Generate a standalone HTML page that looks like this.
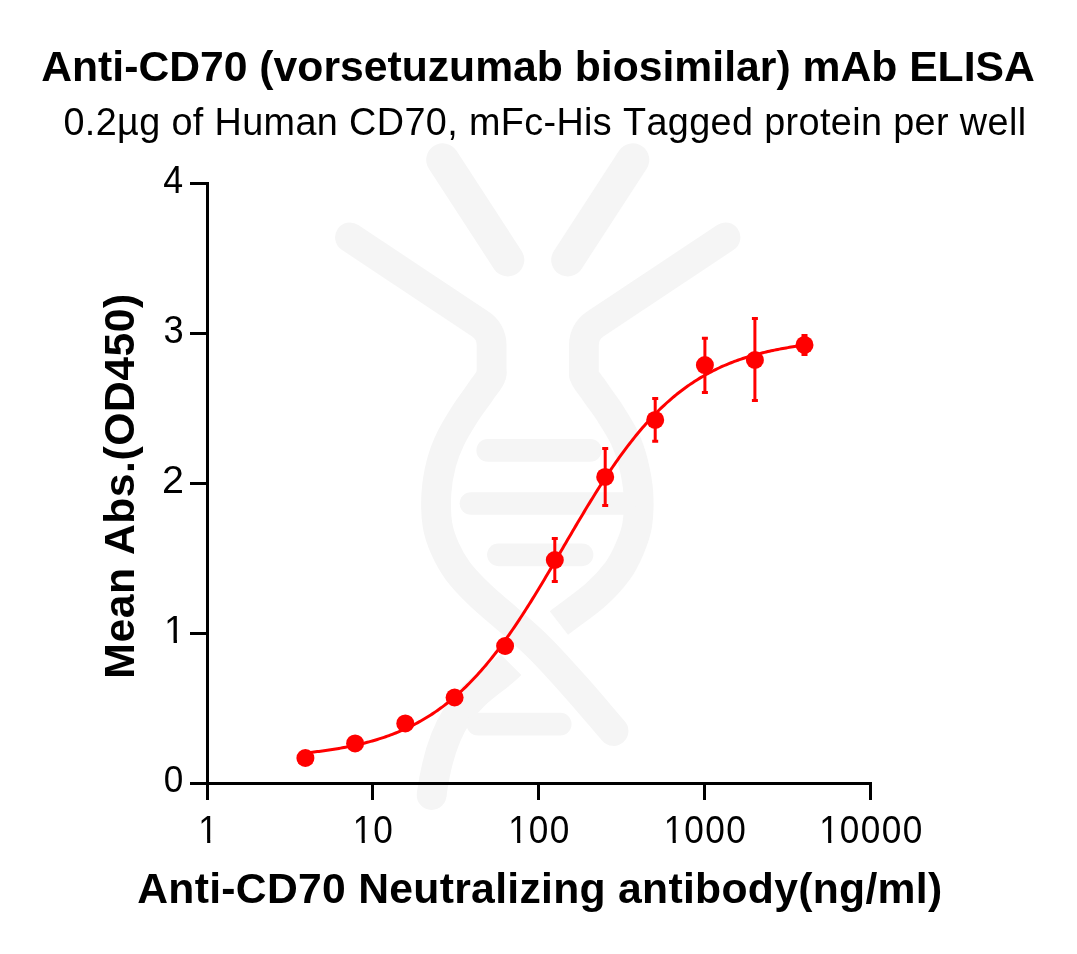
<!DOCTYPE html>
<html><head><meta charset="utf-8"><title>Anti-CD70 ELISA</title><style>html,body{margin:0;padding:0;background:#fff;}svg{display:block;will-change:transform;}</style></head>
<body><svg width="1077" height="954" viewBox="0 0 1077 954">
<rect width="1077" height="954" fill="#fff"/>
<g fill="none" stroke="#f5f5f5" stroke-linecap="round" stroke-linejoin="round">
<path stroke-width="33" d="M442.7,159.8 L507.8,259.9"/>
<path stroke-width="33" d="M632.80,159.8 L567.70,259.9"/>
<path stroke-width="29.8" d="M350.00,237.40 L480.44,324.14 C487.41,328.78 491.60,336.59 491.60,344.96 L491.60,374"/>
<path stroke-width="29.8" d="M725.50,237.40 L595.06,324.14 C588.09,328.78 583.90,336.59 583.90,344.96 L583.90,374"/>
<path stroke-width="29.8" d="M491.60,372.00 C491.60,379.06 485.53,383.83 481.30,390.50 C477.07,397.17 471.27,404.08 466.20,412.00 C461.13,419.92 455.03,429.50 450.90,438.00 C446.77,446.50 443.82,453.83 441.40,463.00 C438.98,472.17 437.05,482.67 436.40,493.00 C435.75,503.33 436.03,515.67 437.50,525.00 C438.97,534.33 441.75,541.27 445.20,549.00 C448.65,556.73 452.40,563.73 458.20,571.40 C464.00,579.07 471.70,586.98 480.00,595.00 C488.30,603.02 498.00,610.58 508.00,619.50 C518.00,628.42 528.67,637.17 540.00,648.50 C551.33,659.83 563.75,673.75 576.00,687.50 C588.25,701.25 601.00,716.50 613.50,731.00"/>
<path stroke-width="29.8" stroke-linecap="butt" d="M583.90,372.00 C583.90,379.06 589.97,383.83 594.20,390.50 C598.43,397.17 604.23,404.08 609.30,412.00 C614.37,419.92 620.60,429.50 624.60,438.00 C628.60,446.50 631.02,453.83 633.30,463.00 C635.58,472.17 637.65,482.67 638.30,493.00 C638.95,503.33 638.67,515.67 637.20,525.00 C635.73,534.33 632.82,541.27 629.50,549.00 C626.18,556.73 622.97,563.73 617.30,571.40 C611.63,579.07 605.23,586.40 595.50,595.00 C585.77,603.60 571.03,613.63 558.90,623.00"/>
<path stroke-width="29.8" stroke-linecap="butt" d="M510.8,664.5 C483.8,691.8 444.5,698.5 431.6,795"/>
<circle cx="431.6" cy="795" r="14.9" fill="#f5f5f5" stroke="none"/>
</g>
<g fill="none" stroke="#f5f5f5" stroke-width="22.7" stroke-linecap="round">
<path d="M487.75,450.4 L590.25,450.4"/>
<path d="M471,503.5 L625,503.5"/>
<path d="M498.45,554.8 L582,554.8"/>
<path d="M478,724.15 L560.15,724.15"/>
</g>
<g stroke="#000" stroke-width="3" fill="none" stroke-linecap="butt">
<path d="M207.5,182 L207.5,785"/>
<path d="M190,783.5 L872,783.5"/>
<path d="M190,783.5 L207.5,783.5"/>
<path d="M190,633.5 L207.5,633.5"/>
<path d="M190,483.5 L207.5,483.5"/>
<path d="M190,333.5 L207.5,333.5"/>
<path d="M190,183.5 L207.5,183.5"/>
<path d="M207.5,783.5 L207.5,800"/>
<path d="M372.5,783.5 L372.5,800"/>
<path d="M538.5,783.5 L538.5,800"/>
<path d="M704.5,783.5 L704.5,800"/>
<path d="M870.5,783.5 L870.5,800"/>
</g>
<polyline points="305.58,752.91 307.25,752.73 308.92,752.56 310.59,752.37 312.26,752.19 313.93,751.99 315.60,751.80 317.27,751.59 318.93,751.39 320.60,751.17 322.27,750.95 323.94,750.73 325.61,750.50 327.28,750.26 328.95,750.02 330.62,749.77 332.28,749.51 333.95,749.25 335.62,748.98 337.29,748.71 338.96,748.42 340.63,748.13 342.30,747.83 343.97,747.53 345.63,747.21 347.30,746.89 348.97,746.56 350.64,746.22 352.31,745.87 353.98,745.52 355.65,745.15 357.32,744.78 358.98,744.39 360.65,744.00 362.32,743.59 363.99,743.18 365.66,742.75 367.33,742.31 369.00,741.87 370.67,741.41 372.33,740.94 374.00,740.46 375.67,739.96 377.34,739.46 379.01,738.94 380.68,738.41 382.35,737.86 384.02,737.30 385.68,736.73 387.35,736.15 389.02,735.54 390.69,734.93 392.36,734.30 394.03,733.66 395.70,733.00 397.37,732.32 399.03,731.63 400.70,730.92 402.37,730.19 404.04,729.45 405.71,728.69 407.38,727.91 409.05,727.11 410.72,726.30 412.38,725.47 414.05,724.61 415.72,723.74 417.39,722.85 419.06,721.94 420.73,721.00 422.40,720.05 424.07,719.07 425.73,718.08 427.40,717.06 429.07,716.02 430.74,714.95 432.41,713.87 434.08,712.75 435.75,711.62 437.42,710.46 439.08,709.28 440.75,708.07 442.42,706.84 444.09,705.58 445.76,704.30 447.43,702.99 449.10,701.66 450.77,700.30 452.43,698.91 454.10,697.49 455.77,696.05 457.44,694.58 459.11,693.08 460.78,691.55 462.45,690.00 464.12,688.41 465.78,686.80 467.45,685.16 469.12,683.49 470.79,681.79 472.46,680.06 474.13,678.30 475.80,676.51 477.47,674.70 479.13,672.85 480.80,670.97 482.47,669.06 484.14,667.13 485.81,665.16 487.48,663.16 489.15,661.14 490.82,659.08 492.48,657.00 494.15,654.88 495.82,652.74 497.49,650.57 499.16,648.36 500.83,646.13 502.50,643.88 504.17,641.59 505.83,639.28 507.50,636.94 509.17,634.57 510.84,632.17 512.51,629.75 514.18,627.31 515.85,624.84 517.52,622.34 519.18,619.82 520.85,617.28 522.52,614.72 524.19,612.13 525.86,609.52 527.53,606.89 529.20,604.25 530.87,601.58 532.53,598.89 534.20,596.19 535.87,593.47 537.54,590.73 539.21,587.98 540.88,585.22 542.55,582.44 544.22,579.65 545.88,576.85 547.55,574.03 549.22,571.21 550.89,568.38 552.56,565.55 554.23,562.70 555.90,559.85 557.57,557.00 559.23,554.14 560.90,551.28 562.57,548.42 564.24,545.56 565.91,542.71 567.58,539.85 569.25,536.99 570.92,534.15 572.58,531.30 574.25,528.46 575.92,525.63 577.59,522.81 579.26,519.99 580.93,517.19 582.60,514.40 584.27,511.61 585.93,508.85 587.60,506.09 589.27,503.35 590.94,500.63 592.61,497.92 594.28,495.23 595.95,492.56 597.62,489.91 599.28,487.28 600.95,484.67 602.62,482.07 604.29,479.51 605.96,476.96 607.63,474.44 609.30,471.94 610.97,469.46 612.63,467.01 614.30,464.58 615.97,462.19 617.64,459.81 619.31,457.47 620.98,455.15 622.65,452.86 624.32,450.59 625.98,448.36 627.65,446.15 629.32,443.97 630.99,441.82 632.66,439.70 634.33,437.61 636.00,435.55 637.67,433.51 639.33,431.51 641.00,429.54 642.67,427.60 644.34,425.68 646.01,423.80 647.68,421.95 649.35,420.12 651.02,418.33 652.68,416.56 654.35,414.83 656.02,413.12 657.69,411.45 659.36,409.80 661.03,408.18 662.70,406.59 664.37,405.03 666.03,403.50 667.70,401.99 669.37,400.52 671.04,399.07 672.71,397.65 674.38,396.25 676.05,394.89 677.72,393.54 679.38,392.23 681.05,390.94 682.72,389.68 684.39,388.44 686.06,387.23 687.73,386.04 689.40,384.88 691.07,383.74 692.73,382.63 694.40,381.54 696.07,380.47 697.74,379.42 699.41,378.40 701.08,377.40 702.75,376.42 704.42,375.46 706.09,374.52 707.75,373.60 709.42,372.71 711.09,371.83 712.76,370.98 714.43,370.14 716.10,369.32 717.77,368.52 719.44,367.74 721.10,366.97 722.77,366.23 724.44,365.50 726.11,364.78 727.78,364.09 729.45,363.41 731.12,362.75 732.79,362.10 734.45,361.46 736.12,360.85 737.79,360.24 739.46,359.66 741.13,359.08 742.80,358.52 744.47,357.97 746.14,357.44 747.80,356.92 749.47,356.41 751.14,355.91 752.81,355.43 754.48,354.95 756.15,354.49 757.82,354.04 759.49,353.61 761.15,353.18 762.82,352.76 764.49,352.35 766.16,351.96 767.83,351.57 769.50,351.19 771.17,350.83 772.84,350.47 774.50,350.12 776.17,349.78 777.84,349.44 779.51,349.12 781.18,348.80 782.85,348.50 784.52,348.20 786.19,347.90 787.85,347.62 789.52,347.34 791.19,347.07 792.86,346.81 794.53,346.55 796.20,346.30 797.87,346.05 799.54,345.82 801.20,345.58 802.87,345.36 804.54,345.14" fill="none" stroke="#f00" stroke-width="3" stroke-linejoin="round"/>
<g stroke="#f00" stroke-width="3" fill="none">
<path d="M554.8,538.6 L554.8,581.4 M551.8,538.6 L557.8,538.6 M551.8,581.4 L557.8,581.4"/>
<path d="M605.2,448.5 L605.2,505.5 M602.2,448.5 L608.2,448.5 M602.2,505.5 L608.2,505.5"/>
<path d="M655.2,398.4 L655.2,441.3 M652.2,398.4 L658.2,398.4 M652.2,441.3 L658.2,441.3"/>
<path d="M704.9,338.3 L704.9,392.4 M701.9,338.3 L707.9,338.3 M701.9,392.4 L707.9,392.4"/>
<path d="M754.9,318.5 L754.9,400.5 M751.9,318.5 L757.9,318.5 M751.9,400.5 L757.9,400.5"/>
<path d="M804.5,335.4 L804.5,354.4 M801.5,335.4 L807.5,335.4 M801.5,354.4 L807.5,354.4"/>
</g>
<g fill="#f00">
<circle cx="305.4" cy="758.0" r="9"/>
<circle cx="355.1" cy="743.4" r="9"/>
<circle cx="405.3" cy="723.4" r="9"/>
<circle cx="454.6" cy="697.5" r="9"/>
<circle cx="505.1" cy="646.0" r="9"/>
<circle cx="554.8" cy="560.0" r="9"/>
<circle cx="605.2" cy="476.9" r="9"/>
<circle cx="655.2" cy="419.9" r="9"/>
<circle cx="704.9" cy="365.1" r="9"/>
<circle cx="754.9" cy="360.0" r="9"/>
<circle cx="804.5" cy="344.9" r="9"/>
</g>
<g font-family="'Liberation Sans', Arial, sans-serif" fill="#000" style="font-kerning:none">
<text transform="translate(41.2,80.7) scale(1,1.012)" font-size="42.7" font-weight="bold">Anti-CD70 (vorsetuzumab biosimilar) mAb ELISA</text>
<text transform="translate(63.4,135.0) scale(1,1.0346)" font-size="37.8" letter-spacing="0.3745">0.2µg of Human CD70, mFc-His Tagged protein per well</text>
<text transform="translate(137.2,902.7) scale(1,1.015)" font-size="42.7" font-weight="bold" letter-spacing="0.28">Anti-CD70 Neutralizing antibody(ng/ml)</text>
<text transform="translate(133.9,678.65) rotate(-90) scale(1,1.015)" font-size="42.7" font-weight="bold" letter-spacing="0.51">Mean Abs.(OD450)</text>
<clipPath id="c1" clipPathUnits="userSpaceOnUse"><rect x="-20" y="-60" width="80" height="57.176"/><rect x="9.485" y="-4" width="3.381" height="6"/></clipPath>
<text transform="translate(163.178,192.900) scale(0.945,1.04)" font-size="37.8">4</text>
<text transform="translate(163.518,342.530) scale(0.96,1.011)" font-size="37.8">3</text>
<text transform="translate(162.014,492.900) scale(1.045,1.019)" font-size="37.8">2</text>
<text transform="translate(164.100,642.900) scale(1.0,1.04)" font-size="37.8" clip-path="url(#c1)">1</text>
<text transform="translate(163.824,792.430) scale(0.93,1.0015)" font-size="37.8">0</text>
<clipPath id="cx0" clipPathUnits="userSpaceOnUse"><rect x="-50" y="-60" width="130" height="57.176"/><rect x="10.915" y="-4" width="3.381" height="6"/></clipPath>
<text transform="translate(197.000,842.65) scale(0.93,1.02)" font-size="37.8" x="1.430" y="0" clip-path="url(#cx0)">1</text>
<clipPath id="cx1" clipPathUnits="userSpaceOnUse"><rect x="-50" y="-60" width="160" height="57.176"/><rect x="10.915" y="-4" width="3.381" height="6"/><rect x="23.859" y="-4" width="20.5" height="6"/></clipPath>
<text transform="translate(351.500,842.65) scale(0.93,1.02)" font-size="37.8" x="1.430 23.359" y="0" clip-path="url(#cx1)">10</text>
<clipPath id="cx2" clipPathUnits="userSpaceOnUse"><rect x="-50" y="-60" width="190" height="57.176"/><rect x="10.915" y="-4" width="3.381" height="6"/><rect x="23.859" y="-4" width="20.5" height="6"/><rect x="46.440" y="-4" width="20.5" height="6"/></clipPath>
<text transform="translate(507.000,842.65) scale(0.93,1.02)" font-size="37.8" x="1.430 23.359 45.940" y="0" clip-path="url(#cx2)">100</text>
<clipPath id="cx3" clipPathUnits="userSpaceOnUse"><rect x="-50" y="-60" width="220" height="57.176"/><rect x="10.915" y="-4" width="3.381" height="6"/><rect x="23.859" y="-4" width="20.5" height="6"/><rect x="46.440" y="-4" width="20.5" height="6"/><rect x="69.020" y="-4" width="20.5" height="6"/></clipPath>
<text transform="translate(662.500,842.65) scale(0.93,1.02)" font-size="37.8" x="1.430 23.359 45.940 68.520" y="0" clip-path="url(#cx3)">1000</text>
<clipPath id="cx4" clipPathUnits="userSpaceOnUse"><rect x="-50" y="-60" width="250" height="57.176"/><rect x="10.915" y="-4" width="3.381" height="6"/><rect x="23.859" y="-4" width="20.5" height="6"/><rect x="46.440" y="-4" width="20.5" height="6"/><rect x="69.020" y="-4" width="20.5" height="6"/><rect x="91.601" y="-4" width="20.5" height="6"/></clipPath>
<text transform="translate(818.000,842.65) scale(0.93,1.02)" font-size="37.8" x="1.430 23.359 45.940 68.520 91.101" y="0" clip-path="url(#cx4)">10000</text>
</g>
</svg></body></html>
